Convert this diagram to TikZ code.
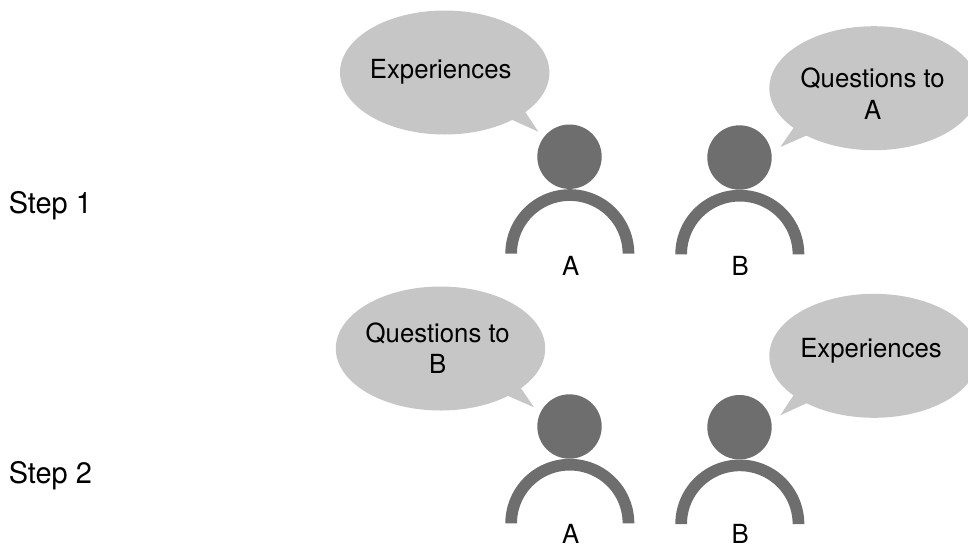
\documentclass[tikz,border=0pt]{standalone}
\usepackage{fontspec}
\setmainfont[FakeStretch=0.978]{TeX Gyre Heros}
\usetikzlibrary{shapes.geometric}
\definecolor{bubblegrey}{HTML}{C6C6C6}
\definecolor{persongrey}{HTML}{6E6E6E}
\tikzset{
  bubble/.style={ellipse,fill=bubblegrey,draw=none,inner sep=0pt,minimum width=209.4pt,minimum height=124pt},
  tail/.style={fill=bubblegrey,draw=none},
  head/.style={circle,fill=persongrey,draw=none,inner sep=0pt,minimum size=64.4pt},
  body/.style={fill=persongrey,draw=none},
  label/.style={anchor=base,inner sep=0pt,font=\fontsize{26.3}{30}\selectfont,text=black},
  steplabel/.style={anchor=base west,inner sep=0pt,font=\fontsize{29.6}{32}\selectfont,text=black}
}
\newcommand{\bodyarc}[2]{\fill[body] plot[domain=180:0,samples=91] ({#1+64.5*cos(\x)},{#2-64.5*sin(\x)}) -- plot[domain=0:180,samples=91] ({#1+52.8*cos(\x)},{#2-52.8*sin(\x)}) -- cycle;}
\begin{document}
\begin{tikzpicture}[x=1pt,y=-1pt]
\useasboundingbox (0,0) rectangle (968,550);
\clip (0,0) rectangle (968,550);
% Step labels
\node[steplabel] (step1) at (8.6,213.3) {Step 1};
\node[steplabel] (step2) at (8.6,483.3) {Step 2};
% Step 1, A
\node[bubble] (bubA1) at (444.7,72.5) {};
\coordinate (tipA1) at (538.3,131.7);
\fill[tail] (525.7,112.7) -- (tipA1) -- (510.3,119) -- (490,110) -- (515,95) -- cycle;
\node[label] (txtA1) at (440.7,78) {Experiences};
\node[head] (headA1) at (569.5,156.7) {};
\bodyarc{569.8}{253.7}
\node[label] (nameA1) at (570.8,275) {A};
% Step 1, B
\node[bubble] (bubB1) at (874,88.2) {};
\coordinate (tipB1) at (780.3,147);
\fill[tail] (793.3,128.3) -- (tipB1) -- (807.7,135) -- (830,125) -- (805,110) -- cycle;
\node[label] (txtB1) at (872.7,87.3) {Questions to};
\node[label] (txtB1b) at (872.7,119) {A};
\node[head] (headB1) at (739.5,157.5) {};
\bodyarc{739.8}{254.3}
\node[label] (nameB1) at (740.3,275) {B};
% Step 2, A
\node[bubble] (bubA2) at (440.5,348.5) {};
\coordinate (tipA2) at (534,407.3);
\fill[tail] (521,388.3) -- (tipA2) -- (506,395) -- (486,386) -- (511,371) -- cycle;
\node[label] (txtA2) at (437.7,342.3) {Questions to};
\node[label] (txtA2b) at (437.7,373.3) {B};
\node[head] (headA2) at (569.5,426.5) {};
\bodyarc{569.8}{523.3}
\node[label] (nameA2) at (570.8,543.3) {A};
% Step 2, B
\node[bubble] (bubB2) at (874,355.8) {};
\coordinate (tipB2) at (780.3,415.3);
\fill[tail] (793.3,395.7) -- (tipB2) -- (807.7,402.7) -- (830,393) -- (805,378) -- cycle;
\node[label] (txtB2) at (871,357.3) {Experiences};
\node[head] (headB2) at (739.5,427.2) {};
\bodyarc{739.8}{524}
\node[label] (nameB2) at (740.3,543.3) {B};
\end{tikzpicture}
\end{document}
